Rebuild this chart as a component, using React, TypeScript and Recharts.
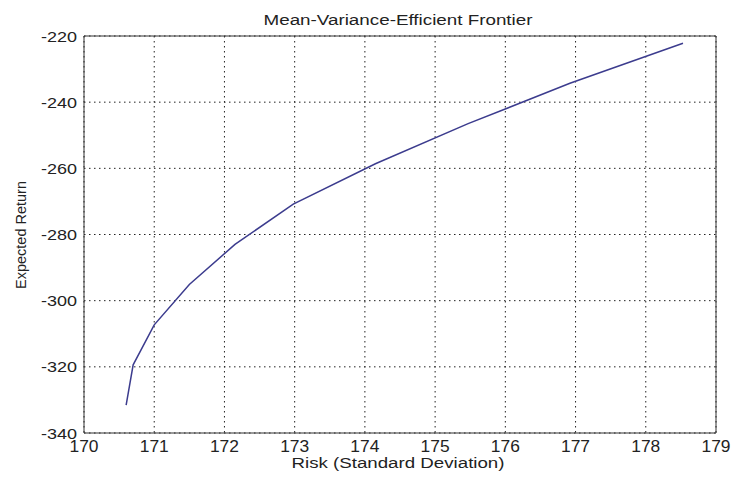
import React from 'react';
import {LineChart, Line, XAxis, YAxis, CartesianGrid} from 'recharts';

// efficient frontier points
const risk = [170.6, 170.7, 171.0, 171.5, 172.15, 172.98, 174.15, 175.47, 176.92, 178.53];
const expReturn = [-331.6, -319.4, -307.3, -295.1, -283.0, -270.8, -258.6, -246.5, -234.3, -222.2];

const xTicks = [170, 171, 172, 173, 174, 175, 176, 177, 178, 179];
const yTicks = [-340, -320, -300, -280, -260, -240, -220];

const title = 'Mean-Variance-Efficient Frontier';
const xLabel = 'Risk (Standard Deviation)';
const yLabel = 'Expected Return';

const data = risk.map((r, i) => ({risk: r, ret: expReturn[i]}));

const FONT = '"Liberation Sans", Arial, sans-serif';
const AXIS = '#333';

const XTick = (props: any) => {
    const {x, y, payload} = props;
    return <text x={x} y={y + 19} textAnchor="middle" fontFamily={FONT} fontSize={16} fill="#222"
                 textLength={29} lengthAdjust="spacingAndGlyphs">{payload.value}</text>
}

const YTick = (props: any) => {
    const {x, y, payload} = props;
    return <text x={x - 7} y={y} dy={5.5} textAnchor="end" fontFamily={FONT} fontSize={15} fill="#222"
                 textLength={36} lengthAdjust="spacingAndGlyphs">{payload.value}</text>
}

const App = () => {
    return (
        <div style={{position: 'absolute', left: 0, top: 0, background: '#fff', width: 733, height: 477}}>
            <LineChart width={733} height={477} data={data} margin={{top: 36, right: 17, bottom: 0, left: 0}}
                       style={{overflow: 'visible'}}>
                <CartesianGrid xAxisId="b" yAxisId="l" stroke="#222" strokeDasharray="1.5 3.5" />
                <XAxis xAxisId="b" type="number" dataKey="risk" domain={[170, 179]} ticks={xTicks}
                       height={44} tickSize={0} tickMargin={0} tickLine={false}
                       axisLine={{stroke: AXIS}} tick={<XTick />} interval={0} />
                <XAxis xAxisId="bin" type="number" orientation="bottom" mirror domain={[170, 179]} ticks={xTicks}
                       tick={false} tickSize={6} tickLine={{stroke: AXIS}} axisLine={false} />
                <XAxis xAxisId="t" type="number" orientation="top" mirror domain={[170, 179]} ticks={xTicks}
                       tick={false} tickSize={6} tickLine={{stroke: AXIS}} axisLine={{stroke: AXIS}} />
                <YAxis yAxisId="l" type="number" domain={[-340, -220]} ticks={yTicks} width={84}
                       tickSize={0} tickMargin={0} tickLine={false} axisLine={{stroke: AXIS}}
                       tick={<YTick />} interval={0} />
                <YAxis yAxisId="lin" type="number" orientation="left" mirror domain={[-340, -220]} ticks={yTicks}
                       tick={false} tickSize={6} tickLine={{stroke: AXIS}} axisLine={false} />
                <YAxis yAxisId="r" type="number" orientation="right" mirror domain={[-340, -220]} ticks={yTicks}
                       tick={false} tickSize={6} tickLine={{stroke: AXIS}} axisLine={{stroke: AXIS}} />
                <Line xAxisId="b" yAxisId="l" dataKey="ret" type="linear" stroke="#3c3c8e" strokeWidth={1.5}
                      dot={false} isAnimationActive={false} />
                <text x={398} y={25} textAnchor="middle" fontFamily={FONT} fontSize={14} fill="#222"
                      textLength={269} lengthAdjust="spacingAndGlyphs">{title}</text>
                <text x={398} y={468} textAnchor="middle" fontFamily={FONT} fontSize={14} fill="#222"
                      textLength={213} lengthAdjust="spacingAndGlyphs">{xLabel}</text>
                <text x={26} y={235} textAnchor="middle" fontFamily={FONT} fontSize={14.5} fill="#222"
                      transform="rotate(-90 26 235)">{yLabel}</text>
            </LineChart>
        </div>
    );
}

export default App;
